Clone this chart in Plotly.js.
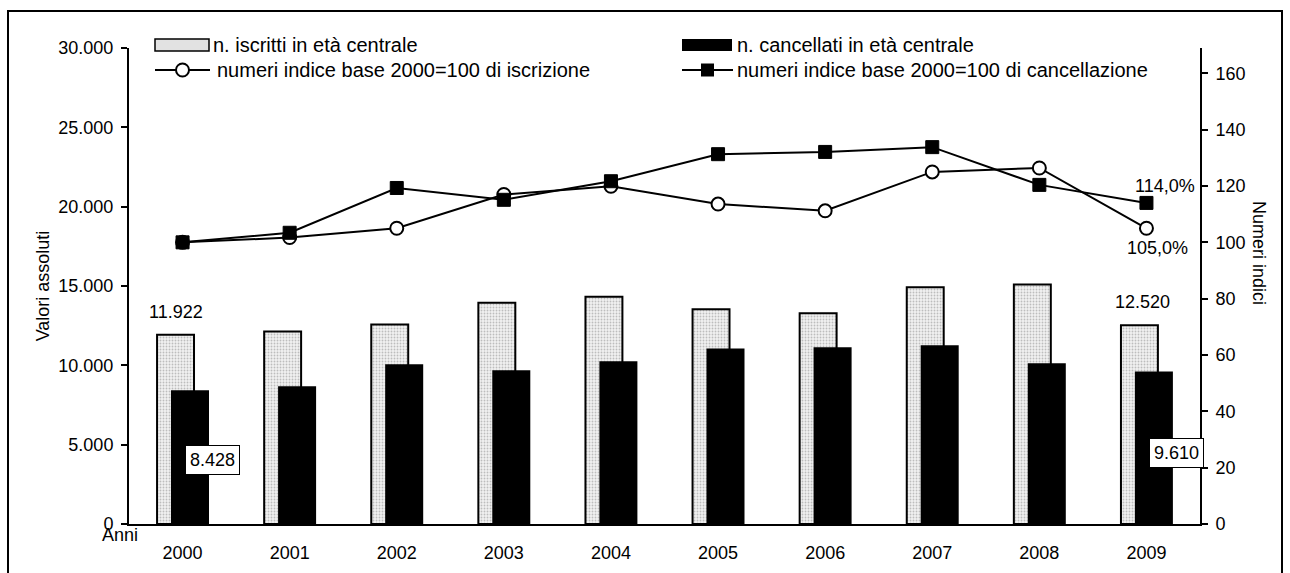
<!DOCTYPE html>
<html>
<head>
<meta charset="utf-8">
<script src="https://cdn.plot.ly/plotly-3.0.1.min.js"></script>
<style>
  html, body { margin: 0; padding: 0; background: #fff; }
  #chart { width: 1290px; height: 573px; }
</style>
</head>
<body>
<div id="chart"></div>
<script>
// ---- data ----
const anni = ['2000', '2001', '2002', '2003', '2004', '2005', '2006', '2007', '2008', '2009'];
const iscritti = [11922, 12130, 12570, 13950, 14330, 13530, 13280, 14920, 15090, 12520];
const cancellati = [8428, 8680, 10070, 9690, 10260, 11060, 11140, 11270, 10130, 9610];
const indiceIscrizione = [100, 101.7, 105.0, 117.0, 119.9, 113.6, 111.2, 125.0, 126.4, 105.0];
const indiceCancellazione = [100, 103.4, 119.3, 115.1, 121.7, 131.3, 132.1, 133.8, 120.4, 114.0];
const nomiSerie = [
  'n. iscritti in età centrale',
  'n. cancellati in età centrale',
  'numeri indice base 2000=100 di iscrizione',
  'numeri indice base 2000=100 di cancellazione'
];

// ---- helpers ----
const FONT = 'Liberation Sans, Arial, sans-serif';
const L = 129, R = 90, T = 48, B = 49, W = 1290, H = 573;
const PW = W - L - R, PH = H - T - B;
const px = x => (x - L) / PW;          // pixel -> paper x
const py = y => (H - B - y) / PH;      // pixel -> paper y
function fmtInt(n) { return String(Math.round(n)).replace(/\B(?=(\d{3})+(?!\d))/g, '.'); }
function fmtPct(v) { return v.toFixed(1).replace('.', ',') + '%'; }

const first = 0, last = anni.length - 1;

const traces = [
  {
    type: 'bar', name: nomiSerie[0], x: anni, y: iscritti,
    width: 0.345, offset: -0.238,
    marker: {
      color: '#e6e6e6',
      line: { color: '#000', width: 2 },
      pattern: { shape: '.', fgcolor: '#bdbdbd', bgcolor: '#f2f2f2', size: 3, solidity: 0.3 }
    },
    hoverinfo: 'skip', showlegend: false
  },
  {
    type: 'bar', name: nomiSerie[1], x: anni, y: cancellati,
    width: 0.355, offset: -0.108,
    marker: { color: '#000', line: { color: '#000', width: 0 } },
    hoverinfo: 'skip', showlegend: false
  },
  {
    type: 'scatter', mode: 'lines+markers', name: nomiSerie[2], x: anni, y: indiceIscrizione,
    yaxis: 'y2', cliponaxis: false,
    line: { color: '#000', width: 2 },
    marker: { symbol: 'circle', size: 13, color: '#fff', line: { color: '#000', width: 2 } },
    hoverinfo: 'skip', showlegend: false
  },
  {
    type: 'scatter', mode: 'lines+markers', name: nomiSerie[3], x: anni, y: indiceCancellazione,
    yaxis: 'y2', cliponaxis: false,
    line: { color: '#000', width: 2 },
    marker: { symbol: 'square', size: 13, color: '#000', line: { color: '#000', width: 1 } },
    hoverinfo: 'skip', showlegend: false
  }
];

const txt = () => ({ family: FONT, size: 18, color: '#000' });
const legFont = () => ({ family: FONT, size: 20, color: '#000' });

const annotations = [
  // data labels (x given as category index)
  { xref: 'x', yref: 'y', x: first, y: iscritti[first], text: fmtInt(iscritti[first]),
    showarrow: false, xshift: -7, yshift: 23, yanchor: 'middle', font: txt() },
  { xref: 'x', yref: 'y', x: last, y: iscritti[last], text: fmtInt(iscritti[last]),
    showarrow: false, xshift: -3.5, yshift: 23, yanchor: 'middle', font: txt() },
  { xref: 'x', yref: 'y', x: first, y: cancellati[first], text: fmtInt(cancellati[first]),
    showarrow: false, xshift: 30, yshift: -70, yanchor: 'middle', font: txt(),
    bgcolor: '#fff', bordercolor: '#000', borderwidth: 1, borderpad: 4 },
  { xref: 'x', yref: 'y', x: last, y: cancellati[last], text: fmtInt(cancellati[last]),
    showarrow: false, xshift: 30, yshift: -81, yanchor: 'middle', font: txt(),
    bgcolor: '#fff', bordercolor: '#000', borderwidth: 1, borderpad: 4 },
  { xref: 'x', yref: 'y2', x: last, y: indiceCancellazione[last], text: fmtPct(indiceCancellazione[last]),
    showarrow: false, xshift: 18.5, yshift: 17, yanchor: 'middle', font: txt() },
  { xref: 'x', yref: 'y2', x: last, y: indiceIscrizione[last], text: fmtPct(indiceIscrizione[last]),
    showarrow: false, xshift: 11.5, yshift: -20, yanchor: 'middle', font: txt() },
  // axis texts
  { xref: 'paper', yref: 'paper', x: px(120), y: py(535), text: 'Anni', showarrow: false,
    xanchor: 'center', yanchor: 'middle', font: txt() },
  { xref: 'paper', yref: 'paper', x: px(1259), y: py(253), text: 'Numeri indici', showarrow: false,
    textangle: 90, xanchor: 'center', yanchor: 'middle', font: txt() },
  // legend texts
  { xref: 'paper', yref: 'paper', x: px(211), y: py(45), text: nomiSerie[0], showarrow: false,
    xanchor: 'left', yanchor: 'middle', font: legFont() },
  { xref: 'paper', yref: 'paper', x: px(735), y: py(45), text: nomiSerie[1], showarrow: false,
    xanchor: 'left', yanchor: 'middle', font: legFont() },
  { xref: 'paper', yref: 'paper', x: px(215), y: py(70), text: nomiSerie[2], showarrow: false,
    xanchor: 'left', yanchor: 'middle', font: legFont() },
  { xref: 'paper', yref: 'paper', x: px(735), y: py(70), text: nomiSerie[3], showarrow: false,
    xanchor: 'left', yanchor: 'middle', font: legFont() }
];

const shapes = [
  // outer frame
  { type: 'rect', xref: 'paper', yref: 'paper', x0: px(8), x1: px(1282), y0: py(585), y1: py(11),
    line: { color: '#000', width: 2 }, fillcolor: 'rgba(0,0,0,0)', layer: 'above' },
  // legend symbols
  { type: 'rect', xref: 'paper', yref: 'paper', x0: px(155), x1: px(209), y0: py(51), y1: py(39),
    line: { color: '#000', width: 1.5 }, fillcolor: '#e2e2e2', layer: 'above' },
  { type: 'rect', xref: 'paper', yref: 'paper', x0: px(682), x1: px(732), y0: py(51), y1: py(39),
    line: { color: '#000', width: 0 }, fillcolor: '#000', layer: 'above' },
  { type: 'line', xref: 'paper', yref: 'paper', x0: px(155), x1: px(210), y0: py(70), y1: py(70),
    line: { color: '#000', width: 2 }, layer: 'above' },
  { type: 'circle', xref: 'paper', yref: 'paper', x0: px(176), x1: px(189), y0: py(76.5), y1: py(63.5),
    line: { color: '#000', width: 2 }, fillcolor: '#fff', layer: 'above' },
  { type: 'line', xref: 'paper', yref: 'paper', x0: px(682), x1: px(733), y0: py(70), y1: py(70),
    line: { color: '#000', width: 2 }, layer: 'above' },
  { type: 'rect', xref: 'paper', yref: 'paper', x0: px(701), x1: px(714), y0: py(76.5), y1: py(63.5),
    line: { color: '#000', width: 0 }, fillcolor: '#000', layer: 'above' }
];

const layout = {
  width: W, height: H,
  margin: { l: L, r: R, t: T, b: B, pad: 0 },
  paper_bgcolor: '#fff', plot_bgcolor: '#fff',
  separators: ',.',
  barmode: 'overlay',
  showlegend: false,
  font: { family: FONT, size: 18, color: '#000' },
  xaxis: {
    type: 'category', range: [-0.5, anni.length - 0.5], autorange: false,
    showline: true, linecolor: '#000', linewidth: 2,
    ticks: '', showgrid: false, zeroline: false, ticklabelstandoff: 11,
    tickfont: { family: FONT, size: 18, color: '#000' }, fixedrange: true
  },
  yaxis: {
    range: [0, 30000], autorange: false, dtick: 5000, tickformat: ',d',
    showline: true, linecolor: '#000', linewidth: 2,
    ticks: 'outside', ticklen: 6, tickwidth: 2, tickcolor: '#000',
    showgrid: false, zeroline: false, ticklabelstandoff: 4,
    tickfont: { family: FONT, size: 18, color: '#000' },
    title: { text: 'Valori assoluti', standoff: 4, font: { family: FONT, size: 18, color: '#000' } },
    fixedrange: true
  },
  yaxis2: {
    overlaying: 'y', side: 'right', range: [0, 169], autorange: false, dtick: 20,
    showline: true, linecolor: '#000', linewidth: 2,
    ticks: 'outside', ticklen: 6, tickwidth: 2, tickcolor: '#000',
    showgrid: false, zeroline: false, ticklabelstandoff: 4,
    tickfont: { family: FONT, size: 18, color: '#000' }, fixedrange: true
  },
  annotations: annotations,
  shapes: shapes
};

Plotly.newPlot('chart', traces, layout, { staticPlot: true, displayModeBar: false });
</script>
</body>
</html>
